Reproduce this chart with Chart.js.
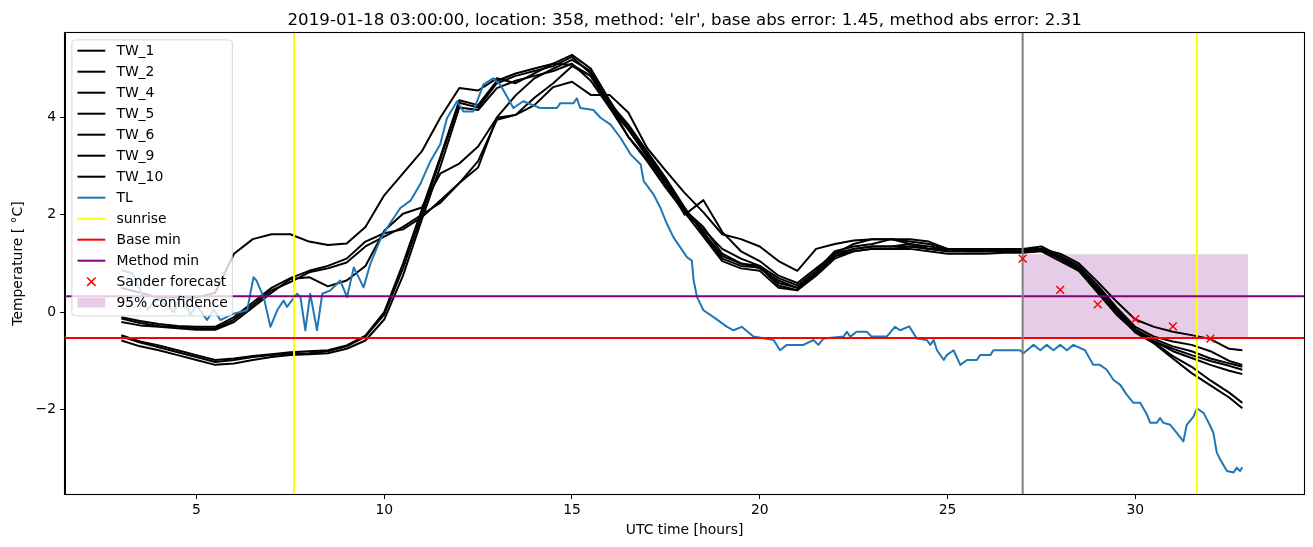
<!DOCTYPE html>
<html>
<head>
<meta charset="utf-8">
<script src="https://cdn.jsdelivr.net/npm/chart.js@4.4.1/dist/chart.umd.min.js"></script>
<style>
  body { margin: 0; background: #fff; }
  canvas { display: block; }
</style>
</head>
<body>
<canvas id="chart" width="1313" height="547" style="width:1313px;height:547px"></canvas>
<script>
// hours since 00 UTC of the forecast day
const twHours = [3, 3.5, 4, 4.5, 5, 5.5, 6, 6.5, 7, 7.5, 8, 8.5, 9, 9.5, 10, 10.5, 11, 11.5, 12, 12.5,
  13, 13.5, 14, 14.5, 15, 15.5, 16, 16.5, 17, 17.5, 18, 18.5, 19, 19.5, 20, 20.5, 21, 21.5, 22, 22.5,
  23, 23.5, 24, 24.5, 25, 25.5, 26, 26.5, 27, 27.5, 28, 28.5, 29, 29.5, 30, 30.5, 31, 31.5, 32, 32.5, 32.85];

const tw1 = [0.5, 0.4, 0.3, 0.3, 0.3, 0.4, 1.2, 1.5, 1.6, 1.6, 1.45, 1.38, 1.41, 1.75, 2.4, 2.85, 3.3, 4.0, 4.6, 4.55,
  4.8, 4.7, 4.9, 5.1, 5.28, 5.0, 4.35, 3.75, 3.2, 2.65, 2.0, 2.3, 1.65, 1.25, 1.05, 0.75, 0.6, 0.9, 1.2, 1.4,
  1.5, 1.5, 1.45, 1.4, 1.3, 1.3, 1.3, 1.3, 1.3, 1.35, 1.15, 0.9, 0.45, 0.0, -0.42, -0.64, -0.95, -1.25, -1.5, -1.75, -1.97];
const tw2 = [-0.13, -0.22, -0.28, -0.3, -0.33, -0.33, -0.15, 0.15, 0.45, 0.62, 0.82, 0.9, 1.02, 1.35, 1.55, 1.75, 2.0, 2.25, 2.65, 3.1,
  3.95, 4.05, 4.4, 4.7, 5.05, 4.85, 4.2, 3.6, 3.1, 2.55, 2.05, 1.7, 1.3, 1.1, 0.95, 0.7, 0.55, 0.85, 1.25, 1.35,
  1.4, 1.5, 1.5, 1.45, 1.3, 1.25, 1.25, 1.25, 1.25, 1.3, 1.2, 1.0, 0.62, 0.22, -0.15, -0.3, -0.4, -0.47, -0.55, -0.75, -0.78];
const tw4 = [-0.2, -0.27, -0.3, -0.33, -0.36, -0.36, -0.2, 0.1, 0.4, 0.68, 0.72, 0.53, 0.65, 0.95, 1.67, 2.02, 2.15, 2.85, 3.05, 3.4,
  3.99, 4.05, 4.25, 4.62, 4.73, 4.46, 4.46, 4.1, 3.37, 2.9, 2.45, 2.05, 1.6, 1.5, 1.35, 1.05, 0.85, 1.3, 1.4, 1.47,
  1.5, 1.5, 1.4, 1.35, 1.3, 1.3, 1.3, 1.25, 1.25, 1.3, 1.15, 0.95, 0.55, 0.1, -0.3, -0.5, -0.6, -0.67, -0.8, -1.0, -1.08];
const tw5 = [-0.1, -0.18, -0.24, -0.28, -0.3, -0.3, -0.1, 0.2, 0.5, 0.7, 0.85, 0.95, 1.1, 1.45, 1.62, 1.7, 1.95, 2.3, 2.65, 2.97,
  4.0, 4.45, 4.8, 5.0, 5.18, 4.95, 4.25, 3.6, 3.15, 2.6, 2.1, 1.75, 1.2, 1.0, 0.9, 0.65, 0.5, 0.8, 1.15, 1.3,
  1.35, 1.35, 1.4, 1.3, 1.25, 1.25, 1.25, 1.3, 1.3, 1.3, 1.1, 0.9, 0.5, 0.05, -0.35, -0.6, -0.8, -0.94, -1.08, -1.2, -1.27];
const tw6 = [-0.5, -0.62, -0.72, -0.82, -0.92, -1.02, -0.98, -0.92, -0.88, -0.85, -0.84, -0.8, -0.7, -0.5, -0.05, 0.9, 2.0, 3.15, 4.3, 4.2,
  4.7, 4.85, 4.95, 5.05, 5.24, 4.9, 4.3, 3.85, 3.3, 2.75, 2.15, 1.6, 1.1, 0.95, 0.92, 0.55, 0.45, 0.75, 1.1, 1.25,
  1.3, 1.3, 1.35, 1.3, 1.3, 1.3, 1.3, 1.3, 1.3, 1.3, 1.1, 0.85, 0.4, -0.05, -0.4, -0.62, -0.9, -1.12, -1.4, -1.65, -1.86];
const tw9 = [-0.58, -0.7, -0.78, -0.88, -0.98, -1.08, -1.05, -0.98, -0.92, -0.88, -0.86, -0.84, -0.75, -0.58, -0.15, 0.75, 1.9, 3.0, 4.2, 4.15,
  4.6, 4.75, 4.85, 4.95, 5.1, 4.75, 4.2, 3.75, 3.2, 2.65, 2.05, 1.55, 1.05, 0.9, 0.85, 0.5, 0.45, 0.8, 1.15, 1.25,
  1.3, 1.3, 1.3, 1.25, 1.2, 1.2, 1.2, 1.22, 1.22, 1.25, 1.05, 0.85, 0.45, 0.0, -0.35, -0.55, -0.7, -0.8, -0.95, -1.05, -1.12];
const tw10 = [-0.47, -0.6, -0.68, -0.78, -0.88, -0.98, -0.95, -0.9, -0.86, -0.82, -0.8, -0.78, -0.68, -0.48, 0.0, 1.0, 2.1, 3.2, 4.35, 4.25,
  4.75, 4.9, 5.0, 5.1, 5.08, 4.85, 4.25, 3.8, 3.25, 2.7, 2.1, 1.65, 1.15, 1.0, 0.95, 0.6, 0.5, 0.8, 1.2, 1.3,
  1.35, 1.35, 1.35, 1.3, 1.25, 1.25, 1.25, 1.25, 1.25, 1.28, 1.1, 0.85, 0.42, -0.02, -0.4, -0.6, -0.75, -0.88, -1.0, -1.1, -1.18];

const tlHours = [3.0, 3.3, 3.5, 3.7, 3.95, 4.2, 4.4, 4.57, 4.84, 5.0, 5.28, 5.46, 5.64, 5.99, 6.35, 6.52, 6.6, 6.79, 6.97, 7.15,
  7.32, 7.41, 7.68, 7.77, 7.9, 8.03, 8.21, 8.35, 8.57, 8.83, 9.01, 9.19, 9.45, 9.63, 9.9, 10.08, 10.43, 10.7, 10.96, 11.23,
  11.49, 11.67, 11.94, 12.11, 12.37, 12.64, 12.9, 13.09, 13.44, 13.7, 14.15, 14.6, 14.69, 15.04, 15.13, 15.22, 15.57, 15.76, 16.03, 16.29,
  16.56, 16.83, 16.91, 17.17, 17.35, 17.53, 17.7, 18.06, 18.19, 18.24, 18.33, 18.5, 18.77, 19.13, 19.3, 19.52, 19.83, 20.37, 20.54, 20.72,
  21.16, 21.43, 21.56, 21.7, 22.23, 22.32, 22.41, 22.58, 22.85, 22.98, 23.38, 23.6, 23.74, 23.98, 24.18, 24.45, 24.54, 24.63, 24.72, 24.9,
  24.98, 25.16, 25.34, 25.52, 25.78, 25.87, 26.14, 26.22, 26.93, 27.02, 27.29, 27.47, 27.64, 27.82, 28.0, 28.18, 28.35, 28.66, 28.88, 29.06,
  29.24, 29.42, 29.6, 29.77, 29.95, 30.13, 30.31, 30.4, 30.57, 30.66, 30.75, 30.93, 31.11, 31.28, 31.37, 31.55, 31.64, 31.82, 32.0, 32.08,
  32.17, 32.26, 32.44, 32.62, 32.7, 32.79, 32.85];
const tlTemps = [0.86, 0.8, 0.45, 0.05, 0.3, 0.15, 0.0, 0.35, -0.05, 0.15, -0.16, 0.05, -0.16, -0.03, 0.04, 0.72, 0.65, 0.31, -0.3, 0.04,
  0.24, 0.11, 0.38, 0.31, -0.37, 0.38, -0.37, 0.38, 0.45, 0.65, 0.31, 0.92, 0.51, 0.99, 1.5, 1.74, 2.14, 2.29, 2.63, 3.1,
  3.44, 3.98, 4.33, 4.12, 4.12, 4.67, 4.8, 4.67, 4.19, 4.33, 4.19, 4.19, 4.29, 4.29, 4.39, 4.19, 4.15, 3.99, 3.85, 3.58,
  3.24, 3.03, 2.69, 2.42, 2.15, 1.81, 1.54, 1.13, 1.06, 0.65, 0.31, 0.04, -0.1, -0.3, -0.37, -0.3, -0.5, -0.57, -0.78, -0.67,
  -0.67, -0.57, -0.67, -0.54, -0.5, -0.4, -0.5, -0.4, -0.4, -0.5, -0.5, -0.3, -0.37, -0.29, -0.54, -0.57, -0.67, -0.57, -0.78, -0.98,
  -0.88, -0.78, -1.08, -0.98, -0.98, -0.88, -0.88, -0.78, -0.78, -0.84, -0.67, -0.78, -0.67, -0.78, -0.67, -0.78, -0.67, -0.78, -1.08, -1.08,
  -1.18, -1.39, -1.49, -1.69, -1.86, -1.86, -2.1, -2.27, -2.27, -2.17, -2.27, -2.31, -2.48, -2.65, -2.31, -2.14, -1.97, -2.07, -2.34, -2.48,
  -2.88, -3.02, -3.26, -3.29, -3.19, -3.26, -3.18];

const sunriseHours = [7.6, 31.64];
const forecastHour = 27;
const baseMin = -0.53;
const methodMin = 0.33;
const sanderHours = [27, 28, 29, 30, 31, 32];
const sanderTemps = [1.1, 0.46, 0.16, -0.14, -0.29, -0.54];
const confHours = [27, 33];
const confLow = -0.53;
const confHigh = 1.19;

const xTicks = [5, 10, 15, 20, 25, 30];
const yTicks = [-2, 0, 2, 4];
const X_MIN = 1.5, X_MAX = 34.5, Y_MIN = -3.73, Y_MAX = 5.73;

const FONT = "'DejaVu Sans', 'Liberation Sans', sans-serif";
Chart.defaults.font.family = FONT;

function pts(xs, ys) {
  return xs.map((x, i) => ({ x: x, y: ys[i] }));
}

function lineSet(label, xs, ys, color, inLegend) {
  return {
    label: label,
    data: pts(xs, ys),
    borderColor: color,
    backgroundColor: color,
    borderWidth: 2,
    pointRadius: 0,
    tension: 0,
    fill: false,
    borderJoinStyle: "round",
    inLegend: inLegend,
  };
}

const twSeries = [
  ["TW_1", tw1], ["TW_2", tw2], ["TW_4", tw4], ["TW_5", tw5],
  ["TW_6", tw6], ["TW_9", tw9], ["TW_10", tw10],
];

// listed bottom to top, like the matplotlib call order
const layers = [];
layers.push({
  label: "95% confidence",
  data: pts(confHours, confHours.map(() => confHigh)),
  borderWidth: 0,
  borderColor: "rgba(0,0,0,0)",
  backgroundColor: "rgba(128,0,128,0.2)",
  pointRadius: 0,
  fill: { value: confLow },
  legendKind: "patch",
  inLegend: false,
});
twSeries.forEach(([name, vals]) => layers.push(lineSet(name, twHours, vals, "#000000", true)));
layers.push(lineSet("TL", tlHours, tlTemps, "#1f77b4", true));
layers.push(lineSet("sunrise", [sunriseHours[0], sunriseHours[0]], [Y_MIN, Y_MAX], "#ffff00", true));
layers.push(lineSet("sunrise2", [sunriseHours[1], sunriseHours[1]], [Y_MIN, Y_MAX], "#ffff00", false));
layers.push(lineSet("Base min", [X_MIN, X_MAX], [baseMin, baseMin], "#ff0000", true));
layers.push(lineSet("Method min", [X_MIN, X_MAX], [methodMin, methodMin], "#800080", true));
layers.push(lineSet("forecast time", [forecastHour, forecastHour], [Y_MIN, Y_MAX], "#808080", false));
layers.push({
  label: "Sander forecast",
  data: pts(sanderHours, sanderTemps),
  showLine: false,
  pointStyle: "crossRot",
  pointRadius: 5.5,
  pointBorderWidth: 1.5,
  pointBorderColor: "#ff0000",
  pointBackgroundColor: "#ff0000",
  borderColor: "#ff0000",
  legendKind: "cross",
  inLegend: false,
});
layers.forEach((d, i) => { d.order = layers.length - i; });

const legendOrder = ["TW_1", "TW_2", "TW_4", "TW_5", "TW_6", "TW_9", "TW_10", "TL", "sunrise",
  "Base min", "Method min", "Sander forecast", "95% confidence"];

const framePlugin = {
  id: "frame",
  afterDatasetsDraw(chart) {
    const c = chart.ctx, a = chart.chartArea;
    c.save();
    c.strokeStyle = "#000";
    c.lineWidth = 1.1;
    c.strokeRect(Math.round(a.left) - 0.5, Math.round(a.top) - 0.5,
      Math.round(a.right - a.left) + 1, Math.round(a.bottom - a.top) + 1);
    c.restore();
  },
};

const legendPlugin = {
  id: "mplLegend",
  afterDraw(chart) {
    const c = chart.ctx, a = chart.chartArea;
    const fs = 13.9;
    const bx = a.left + 6.9, by = a.top + 6.9, bw = 160.4, bh = 276;
    c.save();
    c.beginPath();
    c.roundRect(bx, by, bw, bh, 3);
    c.fillStyle = "rgba(255,255,255,0.8)";
    c.fill();
    c.strokeStyle = "rgba(204,204,204,0.8)";
    c.lineWidth = 1;
    c.stroke();

    c.font = fs + "px " + FONT;
    c.textBaseline = "middle";
    c.textAlign = "left";
    const hx0 = bx + 5.6, hx1 = hx0 + 27.8, tx = hx1 + 11.1;
    legendOrder.forEach((name, i) => {
      const ds = chart.data.datasets.find(d => d.label === name);
      const y = by + 10.8 + i * 21;
      if (ds.legendKind === "patch") {
        c.fillStyle = ds.backgroundColor;
        c.fillRect(hx0, y - 4.9, hx1 - hx0, 9.7);
      } else if (ds.legendKind === "cross") {
        const cx = (hx0 + hx1) / 2, r = 4.2;
        c.strokeStyle = ds.pointBorderColor;
        c.lineWidth = 1.5;
        c.beginPath();
        c.moveTo(cx - r, y - r); c.lineTo(cx + r, y + r);
        c.moveTo(cx - r, y + r); c.lineTo(cx + r, y - r);
        c.stroke();
      } else {
        c.strokeStyle = ds.borderColor;
        c.lineWidth = 2;
        c.beginPath();
        c.moveTo(hx0, y); c.lineTo(hx1, y);
        c.stroke();
      }
      c.fillStyle = "#000";
      c.fillText(name, tx, y + 0.5);
    });

    // axes title
    c.font = "16.67px " + FONT;
    c.textAlign = "center";
    c.textBaseline = "alphabetic";
    c.fillStyle = "#000";
    c.fillText("2019-01-18 03:00:00, location: 358, method: 'elr', base abs error: 1.45, method abs error: 2.31",
      (a.left + a.right) / 2, a.top - 8.3);
    c.restore();
  },
};

const tickFont = { family: FONT, size: 13.9 };

new Chart(document.getElementById("chart"), {
  type: "line",
  data: { datasets: layers },
  options: {
    responsive: false,
    animation: false,
    devicePixelRatio: 1,
    layout: { padding: { top: 33, right: 8.7, left: 0, bottom: 0 } },
    plugins: {
      legend: { display: false },
      title: { display: false },
      tooltip: { enabled: false },
    },
    scales: {
      x: {
        type: "linear",
        min: X_MIN,
        max: X_MAX,
        afterBuildTicks: (s) => { s.ticks = xTicks.map(v => ({ value: v })); },
        afterFit: (s) => { s.height = 53; },
        grid: { drawOnChartArea: false, color: "#000", tickLength: 5 },
        border: { display: true, color: "#000", width: 1 },
        ticks: { color: "#000", font: tickFont, padding: 3, maxRotation: 0, autoSkip: false },
        title: { display: true, text: "UTC time [hours]", color: "#000", font: tickFont, padding: { top: 0, bottom: 8 } },
      },
      y: {
        type: "linear",
        min: Y_MIN,
        max: Y_MAX,
        afterBuildTicks: (s) => { s.ticks = yTicks.map(v => ({ value: v })); },
        afterFit: (s) => { s.width = 65; },
        grid: { drawOnChartArea: false, color: "#000", tickLength: 5 },
        border: { display: true, color: "#000", width: 1 },
        ticks: {
          color: "#000", font: tickFont, padding: 4,
          callback: (v) => String(v).replace("-", "\u2212"),
        },
        title: { display: true, text: "Temperature [ \u00b0C]", color: "#000", font: tickFont, padding: { top: 10, bottom: 0 } },
      },
    },
  },
  plugins: [framePlugin, legendPlugin],
});
</script>
</body>
</html>
